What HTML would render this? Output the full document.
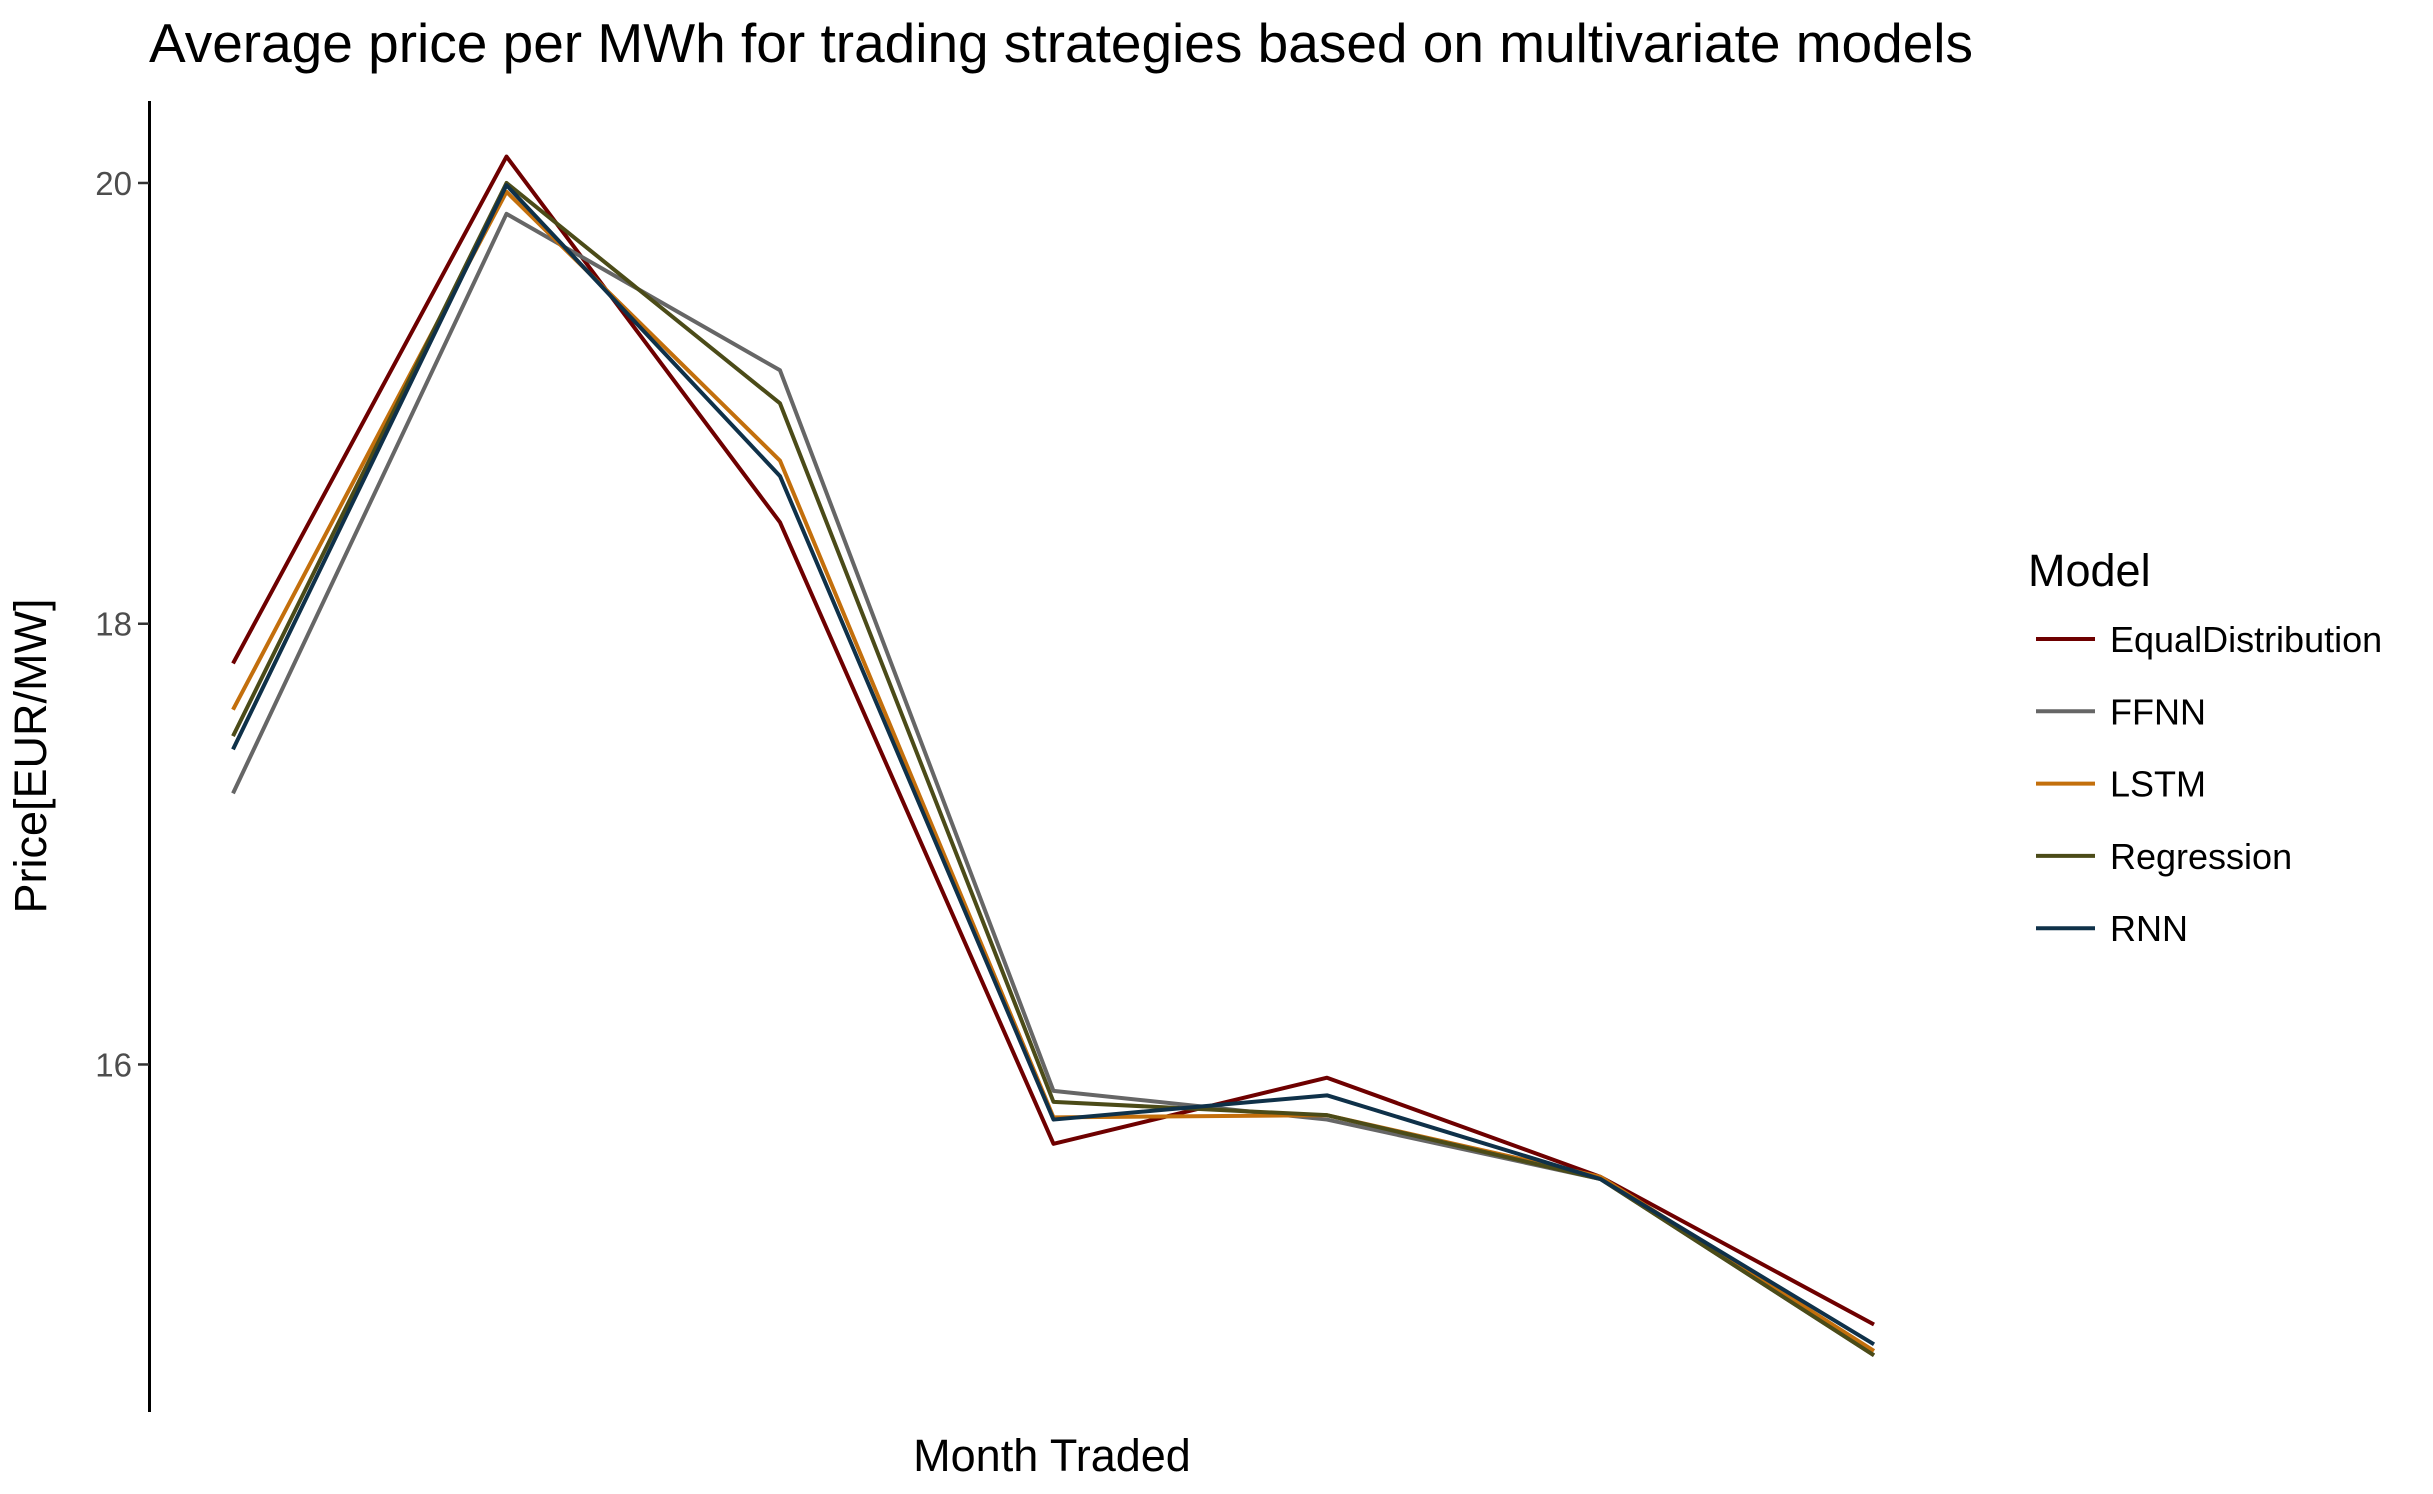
<!DOCTYPE html>
<html><head><meta charset="utf-8"><style>
html,body{margin:0;padding:0;background:#fff;}
svg{display:block;font-family:"Liberation Sans",Arial,sans-serif;}
</style></head><body>
<svg id="chart" width="2433" height="1494" viewBox="0 0 2433 1494" xmlns="http://www.w3.org/2000/svg">
<text x="149" y="62" font-size="55" fill="#000">Average price per MWh for trading strategies based on multivariate models</text>
<line x1="149.5" y1="101" x2="149.5" y2="1412" stroke="#000" stroke-width="3"/>
<g id="yticks"></g>
<g id="series"></g>
<text x="1052" y="1471" font-size="45" text-anchor="middle" fill="#000">Month Traded</text>
<text transform="translate(46,756) rotate(-90)" font-size="45" text-anchor="middle" fill="#000">Price[EUR/MW]</text>
<text x="2028" y="586" font-size="45" fill="#000">Model</text>
<g id="legend"></g>
</svg>
<script>
const categories = [1,2,3,4,5,6,7];
const seriesNames = ["EqualDistribution","FFNN","LSTM","Regression","RNN"];
const seriesColors = ["#6e0000","#666666","#c36f0c","#4b4b18","#0f3149"];
const equalDistribution = [17.82,20.12,18.46,15.64,15.94,15.49,14.82];
const ffnn = [17.23,19.86,19.15,15.88,15.75,15.48,14.68];
const lstm = [17.61,19.96,18.74,15.76,15.77,15.49,14.70];
const regression = [17.49,20.00,19.00,15.83,15.77,15.48,14.68];
const rnn = [17.43,19.99,18.67,15.75,15.86,15.48,14.73];
const yTicks = [16,18,20];
const allSeries = [equalDistribution,ffnn,lstm,regression,rnn];

const NS="http://www.w3.org/2000/svg";
const xL=233, xR=1874, yTop=101, yBot=1412, yMin=14.423, yMax=20.372;
const xs = i => xL + (xR-xL)*(i)/(categories.length-1);
const ys = v => yBot - (v-yMin)/(yMax-yMin)*(yBot-yTop);

const gt=document.getElementById('yticks');
yTicks.forEach(t=>{
  const y=ys(t);
  const l=document.createElementNS(NS,'line');
  
  
  l.setAttribute('x1',138);l.setAttribute('x2',149);l.setAttribute('y1',y);l.setAttribute('y2',y);
  l.setAttribute('stroke','#333');l.setAttribute('stroke-width',2.5);
  gt.appendChild(l);
  const tx=document.createElementNS(NS,'text');
  
  
  tx.setAttribute('x',132);tx.setAttribute('y',y+12);tx.setAttribute('text-anchor','end');
  tx.setAttribute('font-size',33);tx.setAttribute('fill','#4d4d4d');
  tx.textContent=t;
  gt.appendChild(tx);
});

const gs=document.getElementById('series');
allSeries.forEach((s,k)=>{
  const p=document.createElementNS(NS,'polyline');
  
  
  p.setAttribute('points',s.map((v,i)=>xs(i)+','+ys(v)).join(' '));
  p.setAttribute('fill','none');p.setAttribute('stroke',seriesColors[k]);
  p.setAttribute('stroke-width',4);p.setAttribute('stroke-linejoin','round');
  gs.appendChild(p);
});

const gl=document.getElementById('legend');
seriesNames.forEach((n,k)=>{
  const y=639+k*72.3;
  const l=document.createElementNS(NS,'line');
  
  
  l.setAttribute('x1',2036);l.setAttribute('x2',2095);l.setAttribute('y1',y);l.setAttribute('y2',y);
  l.setAttribute('stroke',seriesColors[k]);l.setAttribute('stroke-width',4);
  gl.appendChild(l);
  const tx=document.createElementNS(NS,'text');
  
  
  tx.setAttribute('x',2110);tx.setAttribute('y',y+13);
  tx.setAttribute('font-size',36);tx.setAttribute('fill','#000');
  tx.textContent=n;
  gl.appendChild(tx);
});
</script>
</body></html>
